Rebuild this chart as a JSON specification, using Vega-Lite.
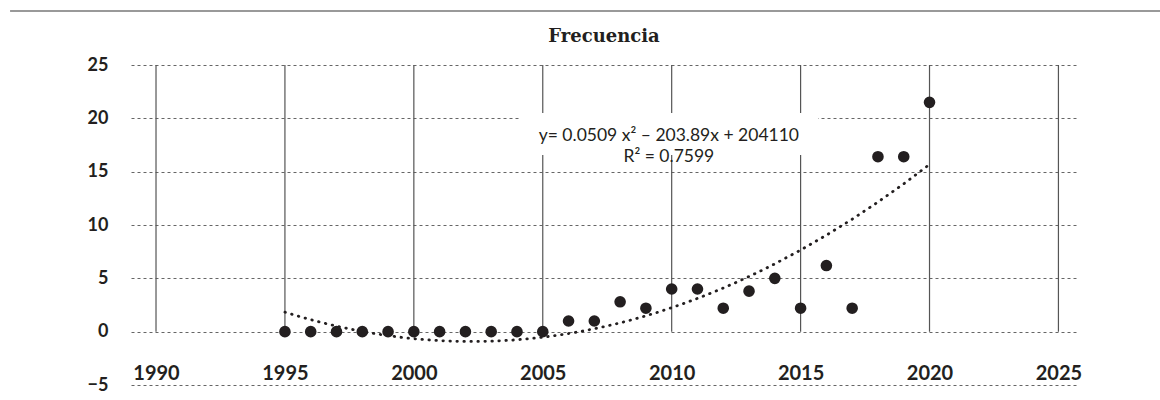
{
  "$schema": "https://vega.github.io/schema/vega-lite/v6.json",
  "width": 946,
  "height": 320,
  "autosize": {"type": "none"},
  "padding": {"left": 131, "top": 65, "right": 83, "bottom": 15},
  "background": "white",
  "config": {"view": {"stroke": null}},
  "title": {"text": "Frecuencia", "font": "DejaVu Serif", "fontSize": 18, "fontWeight": "bold", "color": "#231f20", "offset": -54, "anchor": "middle", "baseline": "bottom"},
  "datasets": {
    "points": [
      {"year": 1995, "freq": 0}, {"year": 1996, "freq": 0}, {"year": 1997, "freq": 0},
      {"year": 1998, "freq": 0}, {"year": 1999, "freq": 0}, {"year": 2000, "freq": 0},
      {"year": 2001, "freq": 0}, {"year": 2002, "freq": 0}, {"year": 2003, "freq": 0},
      {"year": 2004, "freq": 0}, {"year": 2005, "freq": 0}, {"year": 2006, "freq": 1},
      {"year": 2007, "freq": 1}, {"year": 2008, "freq": 2.8}, {"year": 2009, "freq": 2.2},
      {"year": 2010, "freq": 4}, {"year": 2011, "freq": 4}, {"year": 2012, "freq": 2.2},
      {"year": 2013, "freq": 3.8}, {"year": 2014, "freq": 5}, {"year": 2015, "freq": 2.2},
      {"year": 2016, "freq": 6.2}, {"year": 2017, "freq": 2.2}, {"year": 2018, "freq": 16.4},
      {"year": 2019, "freq": 16.4}, {"year": 2020, "freq": 21.5}
    ],
    "grid": [{"year": 1990}, {"year": 1995}, {"year": 2000}, {"year": 2005}, {"year": 2010}, {"year": 2015}, {"year": 2020}, {"year": 2025}],
    "note": [{"x": 2009.89, "y": 18.39, "text": ["y= 0.0509 x² – 203.89x + 204110", "R² = 0.7599"]}],
    "box": [{"x": 2004.12, "x2": 2015.68, "y": 16.56, "y2": 20.5}],
    "frame": [{"x": 1984.34, "x2": 2028.95, "y": 30.06}]
  },
  "layer": [
    {
      "data": {"name": "grid"},
      "mark": {"type": "rule", "color": "#555555", "strokeWidth": 1.2},
      "encoding": {
        "x": {
          "field": "year", "type": "quantitative",
          "scale": {"domain": [1989.03, 2025.72], "nice": false, "zero": false},
          "axis": {
            "orient": "bottom", "values": [1990, 1995, 2000, 2005, 2010, 2015, 2020, 2025],
            "format": "d", "grid": false, "domain": false, "ticks": false,
            "labelFont": "Lato", "labelFontWeight": "bold", "labelFontSize": 20,
            "labelColor": "#231f20", "labelBaseline": "middle", "labelPadding": -12,
            "title": null
          }
        },
        "y": {
          "datum": 0, "type": "quantitative",
          "scale": {"domain": [-5, 25], "nice": false, "zero": false},
          "axis": {
            "values": [-5, 0, 5, 10, 15, 20, 25], "grid": true, "gridDash": [3, 3],
            "gridColor": "#666666", "gridWidth": 1, "domain": false, "ticks": false,
            "labelFont": "Lato", "labelFontWeight": "bold", "labelFontSize": 18,
            "labelColor": "#231f20", "labelPadding": 23, "title": null
          }
        },
        "y2": {"datum": 25}
      }
    },
    {
      "data": {"name": "points"},
      "transform": [{"regression": "freq", "on": "year", "method": "poly", "order": 2, "extent": [1995, 2020]}],
      "mark": {"type": "line", "color": "#231f20", "strokeWidth": 2.8, "strokeDash": [0.5, 6.5], "strokeCap": "round"},
      "encoding": {
        "x": {"field": "year", "type": "quantitative"},
        "y": {"field": "freq", "type": "quantitative"}
      }
    },
    {
      "data": {"name": "points"},
      "mark": {"type": "circle", "color": "#231f20", "opacity": 1, "size": 135},
      "encoding": {
        "x": {"field": "year", "type": "quantitative"},
        "y": {"field": "freq", "type": "quantitative"}
      }
    },
    {
      "data": {"name": "box"},
      "mark": {"type": "rect", "fill": "white"},
      "encoding": {
        "x": {"field": "x", "type": "quantitative"},
        "x2": {"field": "x2"},
        "y": {"field": "y", "type": "quantitative"},
        "y2": {"field": "y2"}
      }
    },
    {
      "data": {"name": "note"},
      "mark": {"type": "text", "font": "Lato", "fontSize": 17.5, "color": "#231f20", "align": "center", "baseline": "middle", "lineHeight": 21},
      "encoding": {
        "x": {"field": "x", "type": "quantitative"},
        "y": {"field": "y", "type": "quantitative"},
        "text": {"field": "text"}
      }
    },
    {
      "data": {"name": "frame"},
      "mark": {"type": "rule", "color": "#777777", "strokeWidth": 1.5},
      "encoding": {
        "x": {"field": "x", "type": "quantitative"},
        "x2": {"field": "x2"},
        "y": {"field": "y", "type": "quantitative"}
      }
    }
  ]
}
